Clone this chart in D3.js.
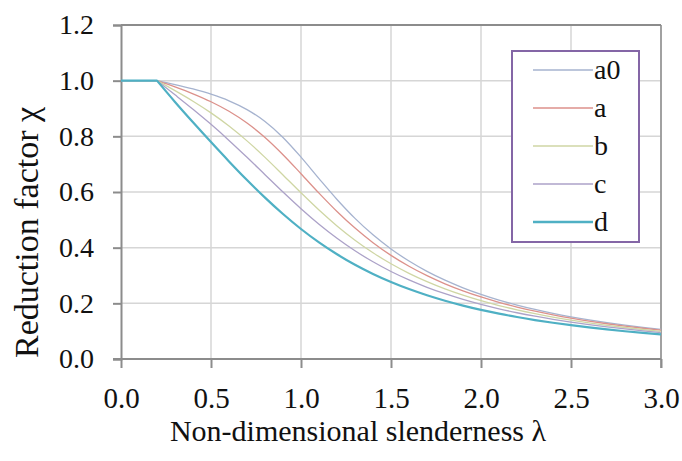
<!DOCTYPE html>
<meta charset="utf-8">
<style>
body { margin: 0; background: #fff; }
</style>
<body>
<script src="https://cdn.jsdelivr.net/npm/d3@7"></script>
<script>

var width = 682,
    height = 461;

var serif = "'Liberation Serif'";

// slenderness values (x)
var lambda = [0.0, 0.1, 0.2, 0.3, 0.4, 0.5, 0.6, 0.7, 0.8, 0.9, 1.0,
              1.1, 1.2, 1.3, 1.4, 1.5, 1.6, 1.7, 1.8, 1.9, 2.0,
              2.1, 2.2, 2.3, 2.4, 2.5, 2.6, 2.7, 2.8, 2.9, 3.0];

// reduction factor read for each buckling curve
var curveA0 = [1, 1, 1.0000, 0.9859, 0.9701, 0.9513, 0.9276, 0.8961, 0.8533, 0.7961, 0.7253,
               0.6482, 0.5732, 0.5053, 0.4461, 0.3953, 0.3520, 0.3150, 0.2833, 0.2559, 0.2323,
               0.2117, 0.1937, 0.1779, 0.1639, 0.1515, 0.1404, 0.1305, 0.1216, 0.1136, 0.1063];
var curveA  = [1, 1, 1.0000, 0.9775, 0.9528, 0.9243, 0.8900, 0.8477, 0.7957, 0.7339, 0.6656,
               0.5960, 0.5300, 0.4703, 0.4179, 0.3724, 0.3332, 0.2994, 0.2702, 0.2449, 0.2229,
               0.2036, 0.1867, 0.1717, 0.1585, 0.1467, 0.1362, 0.1267, 0.1182, 0.1105, 0.1036];
var curveB  = [1, 1, 1.0000, 0.9641, 0.9261, 0.8842, 0.8371, 0.7837, 0.7245, 0.6612, 0.5970,
               0.5352, 0.4782, 0.4269, 0.3817, 0.3422, 0.3079, 0.2781, 0.2521, 0.2294, 0.2095,
               0.1920, 0.1765, 0.1628, 0.1506, 0.1397, 0.1299, 0.1211, 0.1132, 0.1060, 0.0994];
var curveC  = [1, 1, 1.0000, 0.9491, 0.8973, 0.8430, 0.7854, 0.7247, 0.6622, 0.5998, 0.5399,
               0.4842, 0.4338, 0.3888, 0.3492, 0.3145, 0.2842, 0.2577, 0.2345, 0.2141, 0.1962,
               0.1803, 0.1662, 0.1537, 0.1425, 0.1325, 0.1234, 0.1153, 0.1079, 0.1012, 0.0951];
var curveD  = [1, 1, 1.0000, 0.9235, 0.8504, 0.7793, 0.7100, 0.6431, 0.5797, 0.5208, 0.4671,
               0.4189, 0.3762, 0.3385, 0.3055, 0.2766, 0.2512, 0.2289, 0.2093, 0.1920, 0.1766,
               0.1630, 0.1508, 0.1399, 0.1302, 0.1214, 0.1134, 0.1062, 0.0997, 0.0937, 0.0882];

var seriesNames = ["a0", "a", "b", "c", "d"];
var seriesValues = [curveA0, curveA, curveB, curveC, curveD];
var seriesColors = ["#a6b3cf", "#dc918b", "#cfd6a4", "#aca2c8", "#4fb0c4"];
var seriesWidths = [1.3, 1.3, 1.3, 1.3, 2.2];

var xTicks = [0, 0.5, 1, 1.5, 2, 2.5, 3];
var yTicks = [0, 0.2, 0.4, 0.6, 0.8, 1.0, 1.2];

var margin = {top: 25, right: 21, bottom: 102, left: 121};

var svg = d3.select("body").append("svg")
    .attr("width", width)
    .attr("height", height);

var x = d3.scaleLinear()
    .domain([0, 3])
    .range([margin.left, width - margin.right]);

var y = d3.scaleLinear()
    .domain([0, 1.2])
    .range([height - margin.bottom, margin.top]);

// grid
svg.append("g")
    .selectAll("line")
    .data(xTicks.slice(1))
  .enter().append("line")
    .attr("x1", d => x(d)).attr("x2", d => x(d))
    .attr("y1", y(1.2)).attr("y2", y(0))
    .attr("stroke", "#d6d6d6")
    .attr("stroke-width", 1.5);

svg.append("g")
    .selectAll("line")
    .data(yTicks.slice(1))
  .enter().append("line")
    .attr("x1", x(0)).attr("x2", x(3))
    .attr("y1", d => y(d)).attr("y2", d => y(d))
    .attr("stroke", d => d == 1.2 ? "#8c8c8c" : "#d6d6d6")
    .attr("stroke-width", d => d == 1.2 ? 2 : 1.5);

// right border
svg.append("line")
    .attr("x1", x(3)).attr("x2", x(3))
    .attr("y1", y(1.2)).attr("y2", y(0) + 9)
    .attr("stroke", "#8c8c8c")
    .attr("stroke-width", 1.5);

// axes
var xAxis = svg.append("g")
    .attr("transform", "translate(0," + y(0) + ")")
    .call(d3.axisBottom(x).tickValues(xTicks).tickFormat(d3.format(".1f")).tickSize(9).tickPadding(19));

var yAxis = svg.append("g")
    .attr("transform", "translate(" + x(0) + ",0)")
    .call(d3.axisLeft(y).tickValues(yTicks).tickFormat(d3.format(".1f")).tickSize(8).tickPadding(19));

[xAxis, yAxis].forEach(function(g) {
    g.attr("font-family", null).attr("font-size", null);
    g.select(".domain").attr("stroke", "#8c8c8c").attr("stroke-width", 2);
    g.selectAll(".tick line").attr("stroke", "#8c8c8c").attr("stroke-width", 2);
    g.selectAll(".tick text")
        .attr("fill", "#111")
        .style("font-family", serif);
});
xAxis.selectAll(".tick text").style("font-size", "29px");
yAxis.selectAll(".tick text").style("font-size", "28px");
xAxis.select(".domain").attr("d", "M" + (x(0) - 8) + ",0H" + x(3));

// lines: flat plateau up to 0.2, smooth curve after it
var flat = d3.line()
    .x(d => x(d[0]))
    .y(d => y(d[1]));

var smooth = d3.line()
    .x(d => x(d[0]))
    .y(d => y(d[1]))
    .curve(d3.curveMonotoneX);

function pathFor(values) {
    var pts = values.map((v, i) => [lambda[i], v]);
    var k = lambda.indexOf(0.2);
    return flat(pts.slice(0, k + 1)) + smooth(pts.slice(k)).replace(/^M/, "L");
}

svg.append("g")
    .selectAll("path")
    .data(seriesValues)
  .enter().append("path")
    .attr("fill", "none")
    .attr("stroke", (d, i) => seriesColors[i])
    .attr("stroke-width", (d, i) => seriesWidths[i])
    .attr("stroke-linejoin", "round")
    .attr("d", pathFor);

// titles
svg.append("text")
    .attr("x", 358)
    .attr("y", 441)
    .attr("text-anchor", "middle")
    .attr("fill", "#111")
    .style("font-family", serif)
    .style("font-size", "30px")
    .text("Non-dimensional slenderness \u03bb");

svg.append("text")
    .attr("transform", "translate(38,358) rotate(-90)")
    .attr("fill", "#111")
    .style("font-family", serif)
    .style("font-size", "34px")
    .text("Reduction factor \u03c7");

// legend
var legend = svg.append("g");

legend.append("rect")
    .attr("x", 512)
    .attr("y", 51)
    .attr("width", 127)
    .attr("height", 191)
    .attr("fill", "#fff")
    .attr("stroke", "#8466a6")
    .attr("stroke-width", 2);

var items = legend.selectAll("g.item")
    .data(seriesNames)
  .enter().append("g")
    .attr("class", "item")
    .attr("transform", (d, i) => "translate(0," + (70 + i * 38) + ")");

items.append("line")
    .attr("x1", 533).attr("x2", 593)
    .attr("stroke", (d, i) => seriesColors[i])
    .attr("stroke-width", (d, i) => seriesWidths[i] + 0.3);

items.append("text")
    .attr("x", 594)
    .attr("y", 9)
    .attr("fill", "#111")
    .style("font-family", serif)
    .style("font-size", "28px")
    .text(d => d);

</script>
